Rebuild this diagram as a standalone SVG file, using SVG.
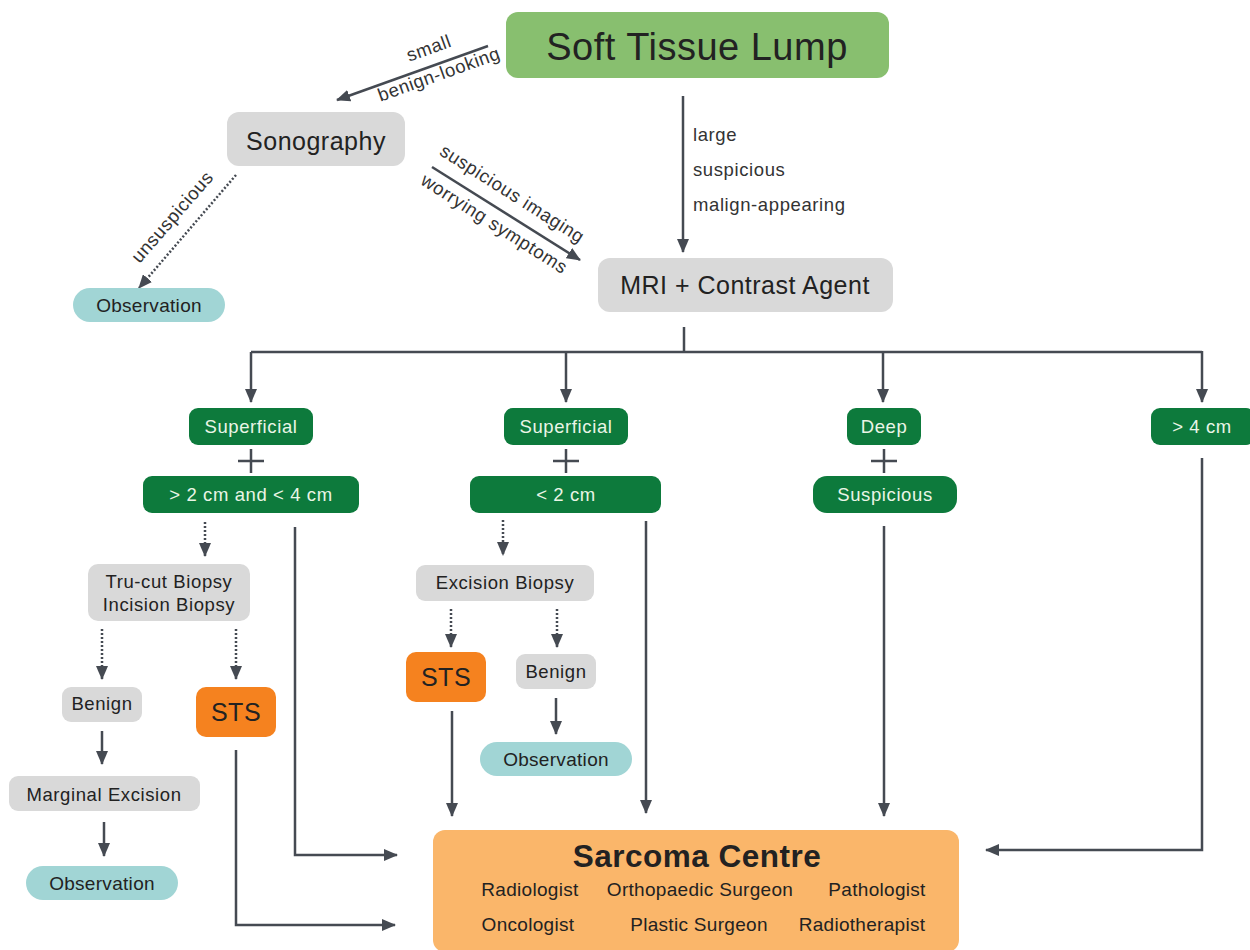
<svg xmlns="http://www.w3.org/2000/svg" width="1250" height="950" viewBox="0 0 1250 950">
<defs>
<marker id="ah" markerUnits="userSpaceOnUse" markerWidth="14" markerHeight="12" refX="13" refY="6" orient="auto">
<path d="M0,0 L14,6 L0,12 z" fill="#454a52"/>
</marker>
<style>
text{font-family:"Liberation Sans",Arial,sans-serif;fill:#222;}
.c{text-anchor:middle;}
.gray{fill:#d9d9d9;}
.green{fill:#0d7a3c;}
.teal{fill:#a1d5d5;}
.orange{fill:#f5821f;}
.gt{fill:#eaf5e6;font-size:18.5px;letter-spacing:0.6px;text-anchor:middle;}
.ln{fill:none;stroke:#454a52;stroke-width:2.5;}
.sol{fill:none;stroke:#454a52;stroke-width:2.5;marker-end:url(#ah);}
.dot{fill:none;stroke:#454a52;stroke-width:2.5;stroke-dasharray:2 2;marker-end:url(#ah);}
.lbl{font-size:18.5px;letter-spacing:0.6px;fill:#333;}
.nt{font-size:18.5px;letter-spacing:0.6px;}
.s18{font-size:19px;letter-spacing:0.3px;}
.s24{font-size:25px;letter-spacing:0.5px;}
</style>
</defs>
<g id="connectors">
<line class="sol" x1="488" y1="46" x2="337" y2="100"/>
<line class="dot" x1="236" y1="175" x2="139" y2="288"/>
<line class="sol" x1="432" y1="167" x2="580" y2="260"/>
<line class="sol" x1="683" y1="96" x2="683" y2="252"/>
<polyline class="ln" points="684,327 684,352"/>
<polyline class="ln" points="251,352 1202,352"/>
<line class="sol" x1="251" y1="352" x2="251" y2="402"/>
<line class="sol" x1="566" y1="352" x2="566" y2="402"/>
<line class="sol" x1="883" y1="352" x2="883" y2="402"/>
<line class="sol" x1="1202" y1="351" x2="1202" y2="402"/>
<path class="ln" d="M238,461 H264 M251,449 V473"/>
<path class="ln" d="M553,461 H579 M566,449 V473"/>
<path class="ln" d="M871,461 H897 M884,449 V473"/>
<line class="dot" x1="205" y1="522" x2="205" y2="556"/>
<line class="dot" x1="102" y1="629" x2="102" y2="679"/>
<line class="dot" x1="236" y1="629" x2="236" y2="679"/>
<line class="sol" x1="102" y1="731" x2="102" y2="764"/>
<line class="sol" x1="104" y1="822" x2="104" y2="856"/>
<polyline class="sol" points="236,750 236,925 395,925"/>
<polyline class="sol" points="295,527 295,855 397,855"/>
<line class="dot" x1="503" y1="520" x2="503" y2="555"/>
<line class="dot" x1="451" y1="609" x2="451" y2="647"/>
<line class="dot" x1="557" y1="609" x2="557" y2="647"/>
<line class="sol" x1="556" y1="698" x2="556" y2="734"/>
<line class="sol" x1="452" y1="711" x2="452" y2="816"/>
<line class="sol" x1="646" y1="521" x2="646" y2="813"/>
<line class="sol" x1="884" y1="526" x2="884" y2="816"/>
<polyline class="sol" points="1202,458 1202,850 986,850"/>
<text class="lbl c" transform="translate(431,54) rotate(-19.7)">small</text>
<text class="lbl c" transform="translate(441,80) rotate(-19.7)">benign-looking</text>
<text class="lbl c" transform="translate(177,221) rotate(-49)">unsuspicious</text>
<text class="lbl c" transform="translate(509,199) rotate(32.4)">suspicious imaging</text>
<text class="lbl c" transform="translate(491,229) rotate(32.4)">worrying symptoms</text>
<text class="lbl" x="693" y="141">large</text>
<text class="lbl" x="693" y="176">suspicious</text>
<text class="lbl" x="693" y="211">malign-appearing</text>
</g>
<g id="soft-tissue-lump">
<rect x="506" y="12" width="383" height="66" rx="12" fill="#88bf6f"/>
<text class="c" x="697" y="60" font-size="38" letter-spacing="0.5">Soft Tissue Lump</text>
</g>
<g id="sonography">
<rect class="gray" x="227" y="112" width="178" height="54" rx="12"/>
<text class="c s24" x="316" y="150">Sonography</text>
</g>
<g id="observation-top">
<rect class="teal" x="73" y="288" width="152" height="34" rx="17"/>
<text class="c s18" x="149" y="312">Observation</text>
</g>
<g id="mri">
<rect class="gray" x="598" y="258" width="295" height="54" rx="12"/>
<text class="c s24" x="745" y="294">MRI + Contrast Agent</text>
</g>
<g id="superficial-1">
<rect class="green" x="189" y="408" width="124" height="37" rx="9"/>
<text class="gt" x="251" y="433">Superficial</text>
</g>
<g id="size-2-4">
<rect class="green" x="143" y="476" width="216" height="37" rx="9"/>
<text class="gt" x="251" y="501">&gt; 2 cm and &lt; 4 cm</text>
</g>
<g id="superficial-2">
<rect class="green" x="504" y="408" width="124" height="37" rx="9"/>
<text class="gt" x="566" y="433">Superficial</text>
</g>
<g id="size-lt-2">
<rect class="green" x="470" y="476" width="191" height="37" rx="9"/>
<text class="gt" x="566" y="501">&lt; 2 cm</text>
</g>
<g id="deep">
<rect class="green" x="847" y="408" width="74" height="37" rx="9"/>
<text class="gt" x="884" y="433">Deep</text>
</g>
<g id="suspicious">
<rect class="green" x="813" y="476" width="144" height="37" rx="14"/>
<text class="gt" x="885" y="501">Suspicious</text>
</g>
<g id="size-gt-4">
<rect class="green" x="1151" y="408" width="104" height="37" rx="9"/>
<text class="gt" x="1202" y="433">&gt; 4 cm</text>
</g>
<g id="trucut-biopsy">
<rect class="gray" x="88" y="564" width="162" height="57" rx="10"/>
<text class="c nt" x="169" y="588">Tru-cut Biopsy</text>
<text class="c nt" x="169" y="611">Incision Biopsy</text>
</g>
<g id="benign-left">
<rect class="gray" x="62" y="687" width="80" height="35" rx="9"/>
<text class="c nt" x="102" y="710">Benign</text>
</g>
<g id="sts-left">
<rect class="orange" x="196" y="687" width="80" height="50" rx="10"/>
<text class="c s24" x="236" y="721">STS</text>
</g>
<g id="marginal-excision">
<rect class="gray" x="9" y="776" width="191" height="35" rx="9"/>
<text class="c nt" x="104" y="801">Marginal Excision</text>
</g>
<g id="observation-left">
<rect class="teal" x="26" y="866" width="152" height="34" rx="17"/>
<text class="c s18" x="102" y="890">Observation</text>
</g>
<g id="excision-biopsy">
<rect class="gray" x="416" y="565" width="178" height="36" rx="9"/>
<text class="c nt" x="505" y="589">Excision Biopsy</text>
</g>
<g id="sts-mid">
<rect class="orange" x="406" y="652" width="80" height="50" rx="10"/>
<text class="c s24" x="446" y="686">STS</text>
</g>
<g id="benign-mid">
<rect class="gray" x="516" y="654" width="80" height="35" rx="9"/>
<text class="c nt" x="556" y="678">Benign</text>
</g>
<g id="observation-mid">
<rect class="teal" x="480" y="742" width="152" height="34" rx="17"/>
<text class="c s18" x="556" y="766">Observation</text>
</g>
<g id="sarcoma-centre">
<rect x="433" y="830" width="526" height="122" rx="12" fill="#fab66a"/>
<text class="c" x="697" y="867" font-size="31.5" font-weight="bold" letter-spacing="0.5" fill="#000">Sarcoma Centre</text>
<text class="c s18" x="530" y="896">Radiologist</text>
<text class="c s18" x="700" y="896">Orthopaedic Surgeon</text>
<text class="c s18" x="877" y="896">Pathologist</text>
<text class="c s18" x="528" y="931">Oncologist</text>
<text class="c s18" x="699" y="931">Plastic Surgeon</text>
<text class="c s18" x="862" y="931">Radiotherapist</text>
</g>
</svg>
